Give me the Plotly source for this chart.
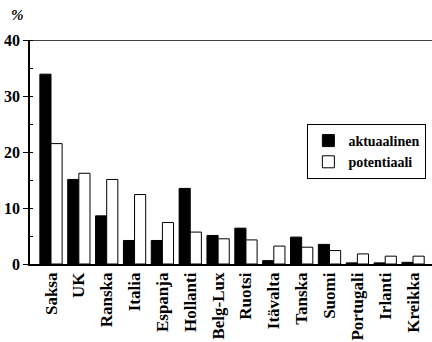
import plotly.graph_objects as go

categories = ["Saksa", "UK", "Ranska", "Italia", "Espanja", "Hollanti", "Belg-Lux",
              "Ruotsi", "Itävalta", "Tanska", "Suomi", "Portugali", "Irlanti", "Kreikka"]
aktuaalinen = [33.9, 15.1, 8.6, 4.2, 4.2, 13.5, 5.1, 6.4, 0.6, 4.8, 3.5, 0.2, 0.2, 0.3]
potentiaali = [21.5, 16.2, 15.1, 12.4, 7.4, 5.7, 4.5, 4.3, 3.2, 3.0, 2.4, 1.8, 1.4, 1.4]
y_ticks = [0, 10, 20, 30, 40]

FONT = "Liberation Serif"

fig = go.Figure()
fig.add_trace(go.Bar(x=categories, y=aktuaalinen, name="aktuaalinen",
                     marker=dict(color="black", line=dict(color="black", width=1))))
fig.add_trace(go.Bar(x=categories, y=potentiaali, name="potentiaali",
                     marker=dict(color="white", line=dict(color="black", width=1))))

fig.update_layout(
    width=432, height=342,
    margin=dict(l=30, r=0, t=40, b=78),
    paper_bgcolor="white", plot_bgcolor="white",
    barmode="group", bargap=0.2, bargroupgap=0.0,
    font=dict(family=FONT, color="black", size=15, weight="bold"),
    legend=dict(x=0.69, y=0.625, xanchor="left", yanchor="top",
                bordercolor="black", borderwidth=1, bgcolor="white",
                font=dict(family=FONT, size=14, weight="bold"),
                tracegroupgap=0, itemwidth=30),
    showlegend=True,
    annotations=[dict(text="<i>%</i>", x=-0.03, y=1.11, xref="paper", yref="paper",
                      xanchor="center", yanchor="middle", showarrow=False,
                      font=dict(family=FONT, size=15, weight="bold"))],
)
fig.add_shape(type="line", xref="paper", yref="y", x0=0, x1=1, y0=40, y1=40,
              line=dict(color="black", width=1.5))

fig.update_xaxes(range=[-0.754, 13.68], tickangle=-90, showline=True, linecolor="black",
                 linewidth=1.5, ticks="", showgrid=False, automargin=False,
                 tickfont=dict(family=FONT, size=17, weight="bold"))
fig.update_yaxes(range=[0, 40], tickvals=y_ticks, showline=True, linecolor="black",
                 linewidth=1.5, ticks="outside", ticklen=5, tickcolor="black",
                 showgrid=False, zeroline=False, automargin=False,
                 minor=dict(dtick=5, ticks="inside", ticklen=3, tickcolor="black"),
                 tickfont=dict(family=FONT, size=16, weight="bold"))

fig.write_html("out.html", config={"displayModeBar": False},
               post_script="document.body.style.margin='0';document.body.style.padding='0';")
